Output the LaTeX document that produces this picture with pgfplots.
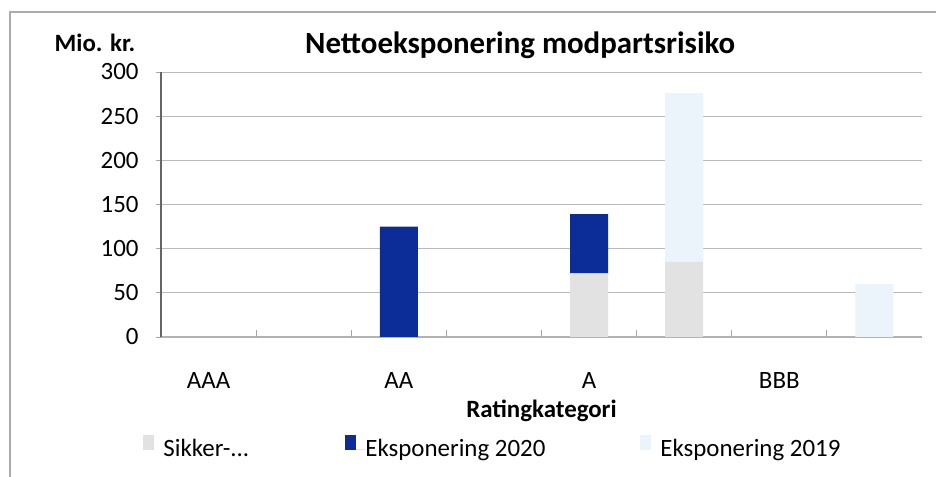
\documentclass[border=0pt]{standalone}
\usepackage{fontspec}
\setmainfont{Carlito}
\usepackage{pgfplots}
\pgfplotsset{compat=1.18}
\definecolor{navy2020}{RGB}{12,44,152}
\definecolor{sikkergray}{RGB}{226,226,226}
\definecolor{lightblue2019}{RGB}{234,244,250}
\newcommand{\tf}{\fontsize{12.5}{15}\selectfont}
\begin{document}
\begin{tikzpicture}
\path[use as bounding box] (0,0) rectangle (468bp,238.5bp);
\fill[white] (0,0) rectangle (468bp,238.5bp);
\draw[gray!65, line width=0.6bp] (5bp,0) |- (468bp,232.5bp);
\begin{axis}[
  at={(80.5bp,70bp)}, anchor=south west,
  scale only axis, width=380.5bp, height=132.5bp,
  ybar stacked, bar width=0.4,
  xmin=0.5, xmax=8.5, ymin=0, ymax=300,
  axis lines*=left,
  axis line style={line width=0.6bp},
  x axis line style={draw=gray!60},
  y axis line style={draw=black!60},
  ytick={0,50,...,300},
  ymajorgrids, grid style={draw=gray!55, line width=0.5bp},
  xtick={1,3,5,7}, xticklabels={AAA,AA,A,BBB},
  xtick style={draw=none},
  extra x ticks={1.5,2.5,...,7.5}, extra x tick labels={},
  extra x tick style={grid=none, tick align=inside, major tick length=3.5bp, xtick style={draw=gray!70, line width=0.5bp}},
  tick align=outside, major tick length=2.5bp,
  ytick style={draw=gray!70, line width=0.5bp},
  /pgf/number format/assume math mode=true,
  tick label style={font=\tf},
  y tick label style={anchor=east, inner sep=0pt, xshift=-8.5bp},
  x tick label style={anchor=center, inner sep=0pt, yshift=-19.5bp},
  title={Nettoeksponering modpartsrisiko},
  title style={at={(axis description cs:0.472,1)}, anchor=center, yshift=7.5bp, inner sep=0pt, font=\bfseries\fontsize{15.5}{18}\selectfont},
  ylabel={Mio. kr.},
  ylabel style={rotate=-90, at={(axis description cs:0,1)}, anchor=center, xshift=-33bp, yshift=14.5bp, inner sep=0pt, font=\bfseries\tf},
  xlabel={Ratingkategori},
  xlabel style={at={(axis description cs:0.5,0)}, anchor=center, yshift=-37bp, inner sep=0pt, font=\bfseries\tf},
  legend columns=3,
  legend style={at={(axis description cs:0,0)}, anchor=west, xshift=-9bp, yshift=-55bp, draw=none, fill=none, inner sep=0pt, font=\tf, nodes={inner sep=0pt}, /tikz/every even column/.append style={column sep=0pt}},
  legend cell align=left,
  legend image code/.code={\fill[#1] (0bp,-0.3bp) rectangle (5.5bp,7.4bp); \path (0,0) -- (10bp,0);},
]
\addplot[fill=sikkergray, draw=none] coordinates {(1,0) (2,0) (3,0) (4,0) (5,72) (6,85) (7,0) (8,0)};
\addlegendentry{\makebox[91bp][l]{Sikker-...}}
\addplot[fill=navy2020, draw=none] coordinates {(1,0) (2,0) (3,125) (4,0) (5,67) (6,0) (7,0) (8,0)};
\addlegendentry{\makebox[137.5bp][l]{Eksponering 2020}}
\addplot[fill=lightblue2019, draw=none] coordinates {(1,0) (2,0) (3,0) (4,0) (5,0) (6,191) (7,0) (8,60)};
\addlegendentry{Eksponering 2019}
\end{axis}
\end{tikzpicture}
\end{document}
